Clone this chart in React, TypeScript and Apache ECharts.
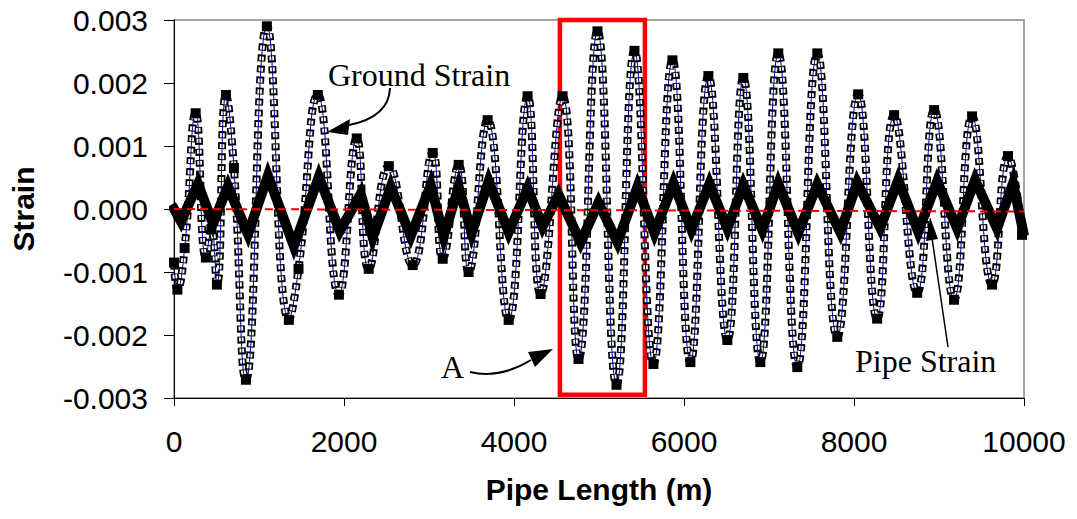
import React, { useEffect, useRef } from "react";
import * as echarts from "echarts";

// Ground strain: [pipe length (m), strain] read at turning points
const groundStrain: [number, number][] = [
  [0, -0.00085], [40, -0.00128], [125, -0.00062], [255, 0.00152], [375, -0.00077],
  [440, -0.00032], [505, -0.0012], [611, 0.00181], [705, 0.00065], [846, -0.00271],
  [1093, 0.0029], [1351, -0.00176], [1465, -0.00095], [1692, 0.00181], [1940, -0.00136],
  [2150, 0.00112], [2291, -0.00095], [2527, 0.00068], [2808, -0.00089], [3043, 0.00089],
  [3161, -0.00079], [3349, 0.0007], [3466, -0.001], [3690, 0.00141], [3937, -0.00176],
  [4160, 0.00179], [4313, -0.00135], [4571, 0.00179], [4759, -0.00238], [4982, 0.00282],
  [5206, -0.00279], [5417, 0.00251], [5640, -0.00246], [5864, 0.00236], [6075, -0.00243],
  [6287, 0.00211], [6510, -0.00208], [6698, 0.00208], [6898, -0.00243], [7109, 0.00247],
  [7333, -0.00251], [7568, 0.00247], [7803, -0.00203], [8049, 0.00182], [8272, -0.00174],
  [8472, 0.00149], [8743, -0.00133], [8943, 0.00157], [9177, -0.00144], [9389, 0.00147],
  [9624, -0.0012], [9812, 0.00084], [9977, -0.00041],
];

// Pipe strain: [pipe length (m), strain]
const pipeStrain: [number, number][] = [
  [0, 0.0], [82, -0.0002], [282, 0.0004], [458, -0.00023], [635, 0.00036],
  [870, -0.0004], [1105, 0.00053], [1410, -0.00059], [1704, 0.00051], [1951, -0.00035],
  [2197, 0.00024], [2338, -0.00045], [2550, 0.00035], [2785, -0.00043], [3020, 0.00038],
  [3173, -0.00043], [3349, 0.00035], [3502, -0.00038], [3702, 0.00044], [3937, -0.00037],
  [4160, 0.00033], [4336, -0.00028], [4524, 0.00023], [4783, -0.00053], [4994, 0.0001],
  [5217, -0.00053], [5452, 0.00035], [5652, -0.00038], [5876, 0.00041], [6087, -0.00033],
  [6299, 0.0004], [6510, -0.00031], [6698, 0.00038], [6921, -0.00033], [7109, 0.0004],
  [7344, -0.00038], [7568, 0.00039], [7838, -0.00037], [8038, 0.00042], [8308, -0.0003],
  [8520, 0.00046], [8755, -0.00036], [8978, 0.00044], [9213, -0.00031], [9424, 0.00046],
  [9683, -0.00031], [9871, 0.00041], [9989, -0.00035],
];

// Reference (mean) line
const zeroLine: [number, number][] = [[0, 0], [10000, -0.00004]];

// Highlighted region "A": [x0, y0] to [x1, y1]
const regionA: [number, number][] = [[4540, 0.003], [5540, -0.00295]];

const xTicks = [0, 2000, 4000, 6000, 8000, 10000];
const yTicks = [-0.003, -0.002, -0.001, 0, 0.001, 0.002, 0.003];

export default function App() {
  const ref = useRef<HTMLDivElement>(null);
  useEffect(() => {
    if (!ref.current) return;
    const chart = echarts.init(ref.current, undefined, { renderer: "svg" });
    const sans = "'Liberation Sans', Arial, sans-serif";
    const serif = "'Liberation Serif', 'Times New Roman', serif";
    chart.setOption({
      animation: false,
      backgroundColor: "#fff",
      grid: {
        left: 173, right: 53, top: 20, bottom: 121,
        show: true, borderColor: "#888", borderWidth: 1.5, backgroundColor: "transparent",
      },
      xAxis: {
        type: "value",
        min: xTicks[0], max: xTicks[xTicks.length - 1], interval: 2000,
        axisLine: { show: true, onZero: false, lineStyle: { color: "#000", width: 1 } },
        axisTick: { show: true, inside: false, length: 8, lineStyle: { color: "#000" } },
        splitLine: { show: false },
        axisLabel: {
          fontSize: 30, fontFamily: sans, color: "#000", margin: 28,
          formatter: (v: number) => String(Math.round(v)),
        },
        name: "Pipe Length (m)", nameLocation: "middle", nameGap: 76,
        nameTextStyle: { fontSize: 30, fontWeight: "bold", fontFamily: sans, color: "#000" },
      },
      yAxis: {
        type: "value",
        min: yTicks[0], max: yTicks[yTicks.length - 1], interval: 0.001,
        axisLine: { show: true, onZero: false, lineStyle: { color: "#000", width: 1 } },
        axisTick: { show: true, inside: false, length: 10, lineStyle: { color: "#000" } },
        splitLine: { show: false },
        axisLabel: {
          fontSize: 30, fontFamily: sans, color: "#000", margin: 26,
          formatter: (v: number) => (Math.abs(v) < 1e-9 ? "0.000" : v.toFixed(3)),
        },
        name: "Strain", nameLocation: "middle", nameRotate: 90, nameGap: 136,
        nameTextStyle: { fontSize: 30, fontWeight: "bold", fontFamily: sans, color: "#000" },
      },
      series: [
        {
          type: "line", data: groundStrain, smooth: 0.5, symbol: "none", silent: true, z: 2,
          lineStyle: { color: "#000", width: 8, type: [7, 4] },
        },
        {
          type: "line", data: groundStrain, smooth: 0.5, symbol: "none", silent: true, z: 3,
          lineStyle: { color: "#fff", width: 4.6, type: [4, 7], dashOffset: 9.5 },
        },
        {
          name: "Ground Strain", type: "line", data: groundStrain, smooth: 0.5, z: 4,
          symbol: "rect", symbolSize: 10, itemStyle: { color: "#000" },
          lineStyle: { color: "#000080", width: 1 },
        },
        {
          name: "Pipe Strain", type: "line", data: pipeStrain, symbol: "none", z: 5,
          lineStyle: { color: "#000", width: 10, cap: "square", join: "miter" },
        },
        {
          name: "Zero", type: "line", data: zeroLine, symbol: "none", z: 6,
          lineStyle: { color: "#ff0000", width: 2, type: [8, 5] },
          markArea: {
            silent: true,
            itemStyle: { color: "rgba(0,0,0,0)", borderColor: "#ff0000", borderWidth: 4.5 },
            data: [[{ coord: regionA[0] }, { coord: regionA[1] }]],
          },
        },
      ],
      graphic: [
        { type: "text", left: 328, top: 59, z: 100,
          style: { text: "Ground Strain", font: `32px ${serif}`, fill: "#000" } },
        { type: "bezierCurve", z: 100,
          shape: { x1: 390, y1: 88, x2: 349, y2: 125, cpx1: 389, cpy1: 117 },
          style: { stroke: "#000", lineWidth: 2, fill: "none" } },
        { type: "polygon", z: 100,
          shape: { points: [[327, 132], [350, 119], [348, 135]] }, style: { fill: "#000" } },
        { type: "text", left: 441, top: 351, z: 100,
          style: { text: "A", font: `32px ${serif}`, fill: "#000" } },
        { type: "bezierCurve", z: 100,
          shape: { x1: 470, y1: 372, x2: 531, y2: 360, cpx1: 500, cpy1: 379 },
          style: { stroke: "#000", lineWidth: 2, fill: "none" } },
        { type: "polygon", z: 100,
          shape: { points: [[553, 349], [528, 352], [535, 367]] }, style: { fill: "#000" } },
        { type: "text", left: 855, top: 345, z: 100,
          style: { text: "Pipe Strain", font: `32px ${serif}`, fill: "#000" } },
        { type: "line", z: 100,
          shape: { x1: 948, y1: 347, x2: 932, y2: 238 },
          style: { stroke: "#000", lineWidth: 1.5 } },
        { type: "polygon", z: 100,
          shape: { points: [[930, 217], [926, 241], [938, 239]] }, style: { fill: "#000" } },
      ],
    });
    return () => chart.dispose();
  }, []);
  return (
    <div
      ref={ref}
      style={{ position: "fixed", left: 0, top: 0, width: 1077, height: 519, background: "#fff" }}
    />
  );
}
